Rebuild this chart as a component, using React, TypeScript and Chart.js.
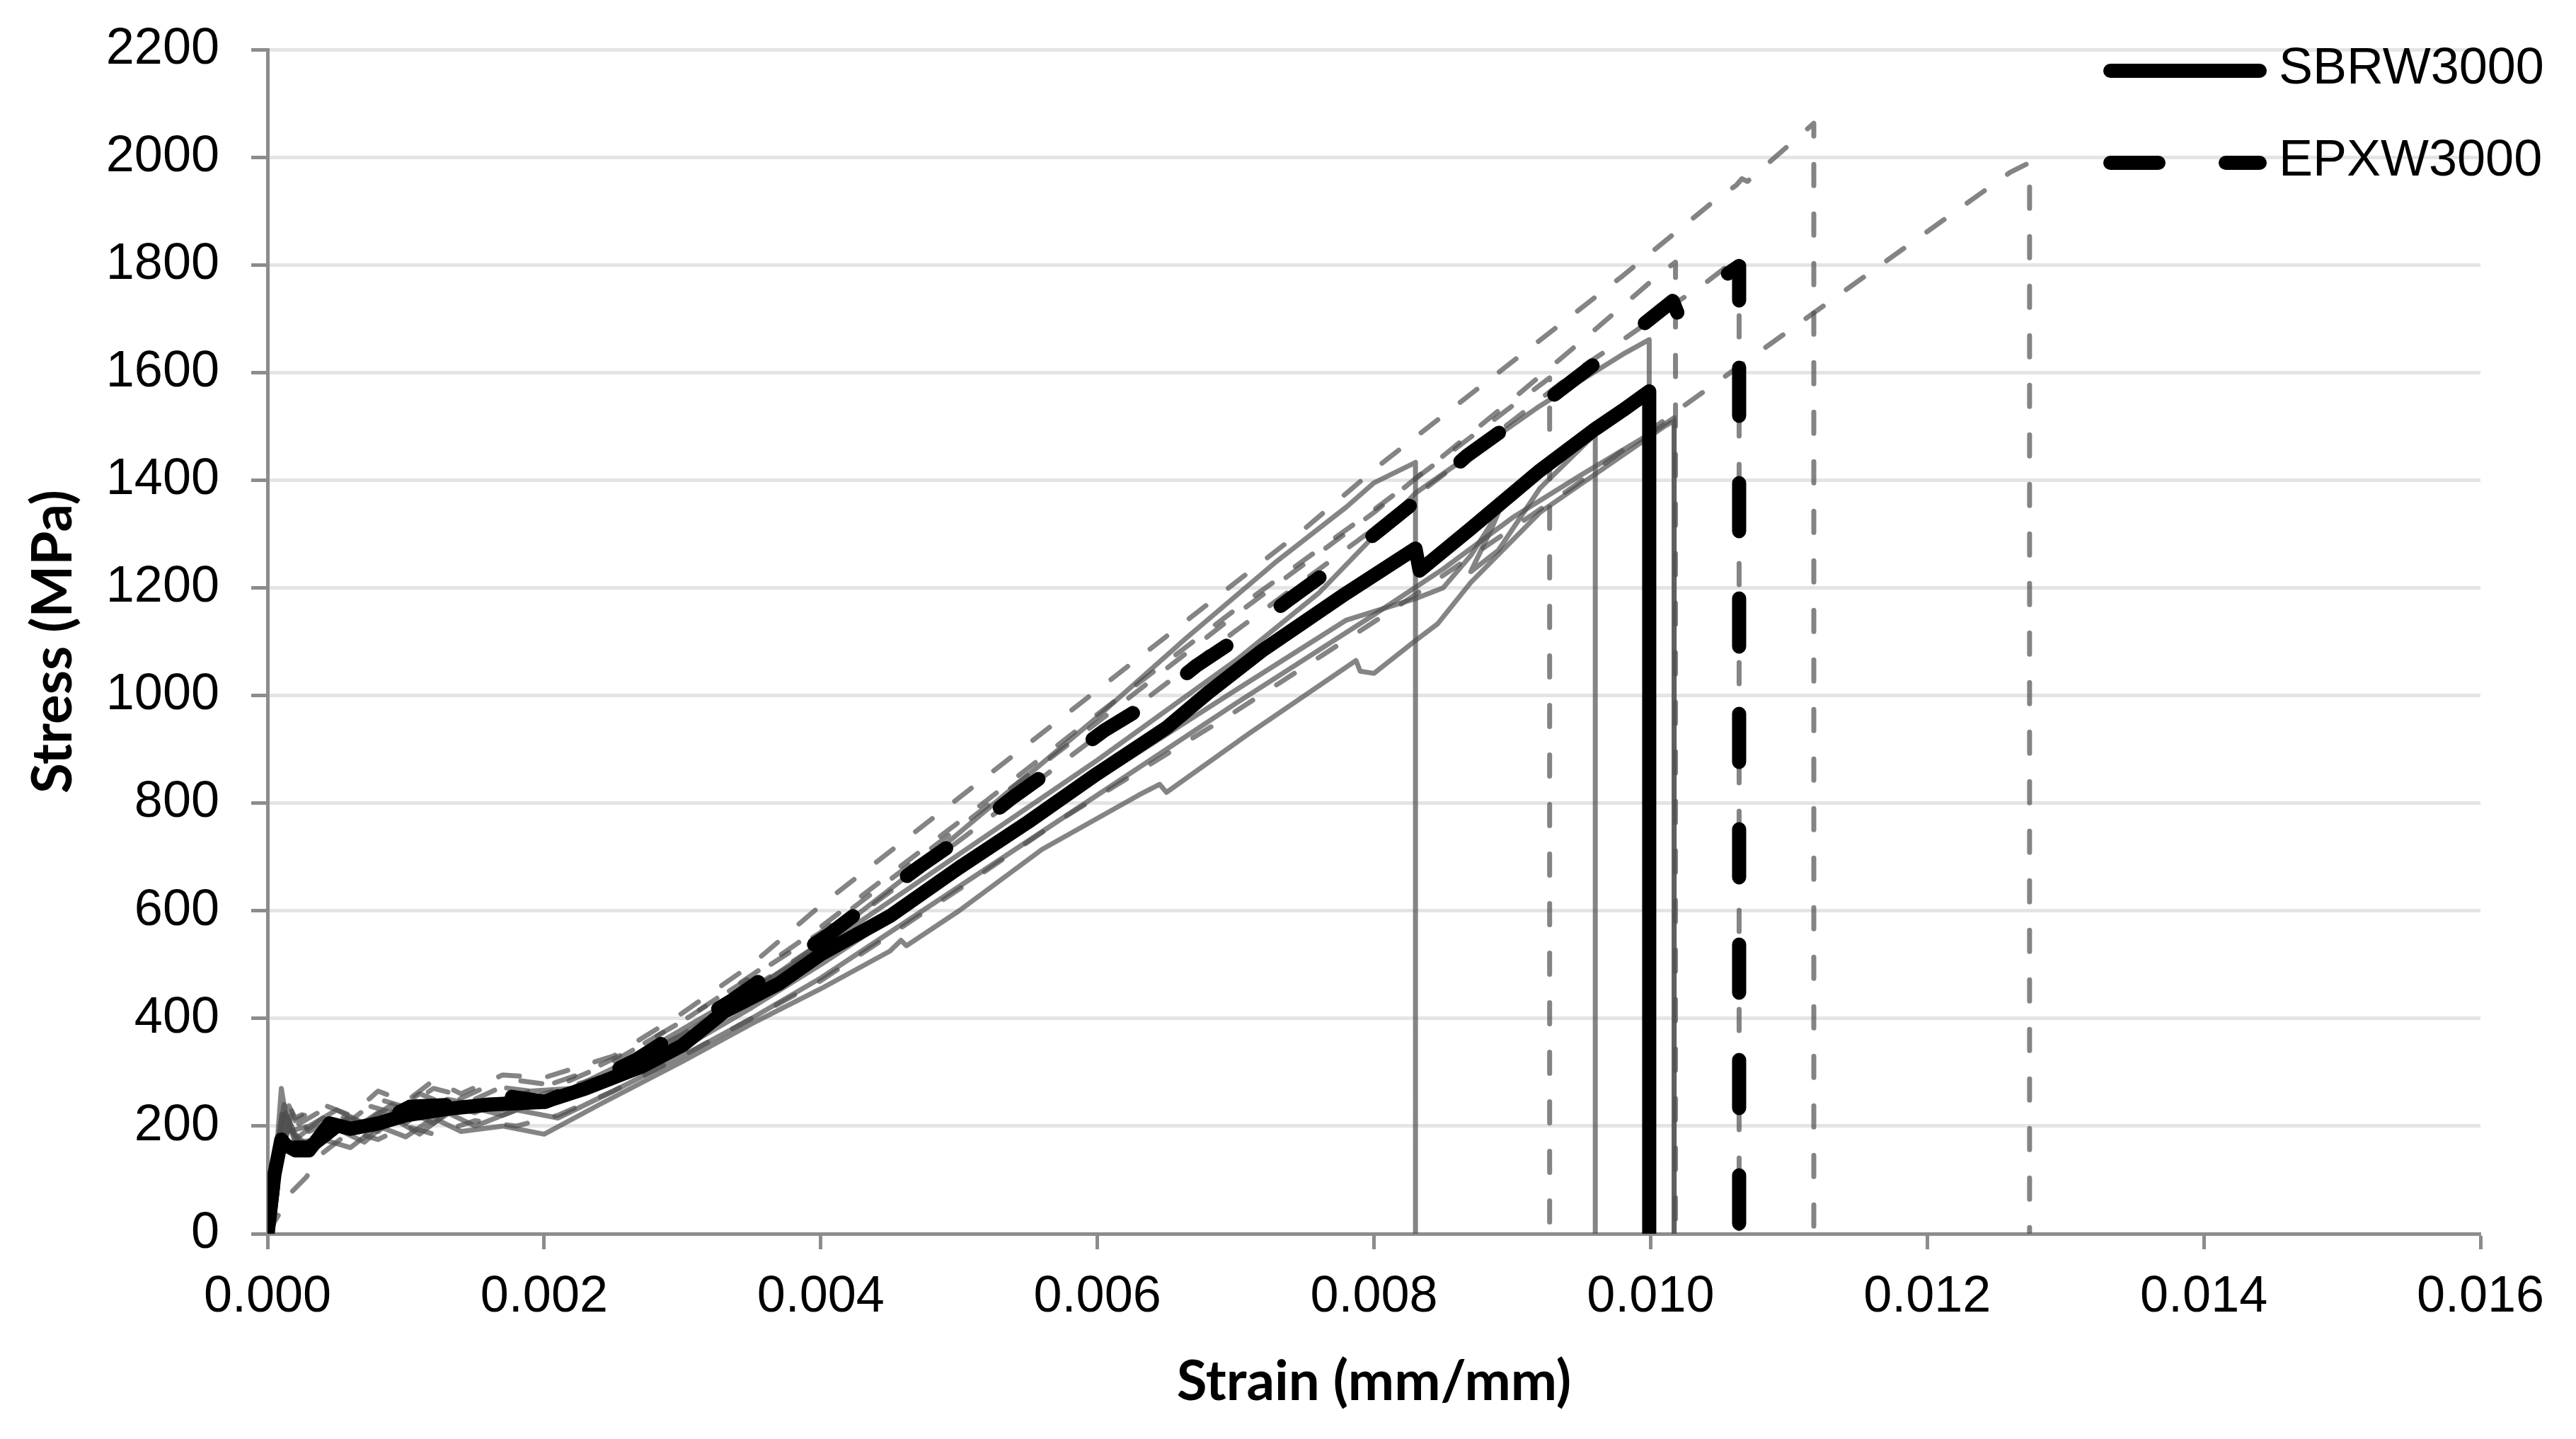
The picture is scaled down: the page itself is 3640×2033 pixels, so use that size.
import React, { useEffect, useRef } from "react";
import { Chart, registerables } from "chart.js";

Chart.register(...registerables);

// ---------- data (strain in mm/mm, stress in MPa) ----------
const sbrMeanStrain = [0, 0.00005, 0.0001, 0.00013, 0.0002, 0.0003, 0.00045, 0.0006, 0.0008, 0.001, 0.0013, 0.0016, 0.002, 0.0023, 0.0027, 0.003, 0.0033, 0.0037, 0.004, 0.0045, 0.005, 0.0055, 0.006, 0.0065, 0.0068, 0.0072, 0.0078, 0.0083, 0.00833, 0.0087, 0.0092, 0.0096, 0.0098, 0.00999, 0.00999];
const sbrMeanStress = [0, 110, 175, 165, 155, 155, 205, 195, 205, 220, 232, 240, 245, 270, 310, 350, 412, 465, 519, 590, 680, 765, 855, 940, 1005, 1085, 1190, 1273, 1232, 1310, 1418, 1495, 1530, 1565, 0];

const epxMeanStrain = [0, 0.00005, 0.0001, 0.00015, 0.0002, 0.0003, 0.0005, 0.00074, 0.00103, 0.00138, 0.00167, 0.00201, 0.00236, 0.00267, 0.00302, 0.00336, 0.0037, 0.00406, 0.00435, 0.00472, 0.00504, 0.00539, 0.0057, 0.00605, 0.00637, 0.00672, 0.00703, 0.00739, 0.00768, 0.00804, 0.00833, 0.00867, 0.00898, 0.0093, 0.00961, 0.00995, 0.01016, 0.0102, 0.01052, 0.01064, 0.01064];
const epxMeanStress = [0, 110, 180, 170, 160, 160, 200, 197, 236, 240, 258, 245, 284, 324, 381, 434, 495, 556, 613, 683, 740, 811, 868, 935, 985, 1056, 1109, 1179, 1233, 1307, 1367, 1445, 1502, 1558, 1619, 1690, 1733, 1707, 1777, 1798, 0];

// SBR specimens (solid grey)
const sbrAStrain = [0, 0.00006, 0.00012, 0.0002, 0.0004, 0.0006, 0.0008, 0.001, 0.0012, 0.0015, 0.0018, 0.0021, 0.0025, 0.003, 0.0035, 0.004, 0.0047, 0.00534, 0.006, 0.00664, 0.0073, 0.0078, 0.008, 0.0083, 0.0083];
const sbrAStress = [0, 150, 240, 175, 215, 190, 225, 205, 245, 225, 260, 250, 300, 370, 450, 540, 680, 818, 960, 1106, 1250, 1350, 1395, 1433, 0];

const sbrBStrain = [0, 0.00008, 0.00015, 0.00025, 0.0004, 0.0006, 0.0008, 0.001, 0.0012, 0.0014, 0.0017, 0.002, 0.0025, 0.003, 0.0035, 0.004, 0.005, 0.006, 0.007, 0.0078, 0.0083, 0.0085, 0.0087, 0.0089, 0.00885, 0.0087, 0.0089, 0.0092, 0.0096, 0.0096];
const sbrBStress = [0, 120, 200, 165, 185, 215, 190, 230, 205, 240, 220, 250, 285, 345, 420, 500, 670, 845, 1010, 1140, 1180, 1200, 1260, 1340, 1310, 1230, 1270, 1385, 1486, 0];

const sbrCStrain = [0, 0.00005, 0.0001, 0.00015, 0.0003, 0.0005, 0.0007, 0.0009, 0.0011, 0.0013, 0.0016, 0.0019, 0.0022, 0.0026, 0.003, 0.0035, 0.004, 0.005, 0.006, 0.007, 0.0076, 0.0083, 0.0092, 0.0098, 0.00999, 0.00999];
const sbrCStress = [0, 100, 270, 190, 200, 230, 205, 240, 215, 250, 235, 265, 270, 320, 380, 455, 530, 705, 880, 1065, 1190, 1376, 1538, 1634, 1661, 0];

const sbrDStrain = [0, 0.00008, 0.00014, 0.0002, 0.0004, 0.0006, 0.0008, 0.001, 0.0012, 0.0014, 0.0017, 0.002, 0.0024, 0.003, 0.0035, 0.004, 0.0045, 0.00458, 0.00462, 0.005, 0.0056, 0.0063, 0.00645, 0.0065, 0.0071, 0.00787, 0.0079, 0.008, 0.0083, 0.00846, 0.0087, 0.0092, 0.0101, 0.01017, 0.01017];
const sbrDStress = [0, 140, 215, 170, 175, 160, 200, 180, 215, 190, 200, 185, 240, 320, 390, 455, 525, 545, 535, 600, 714, 815, 835, 820, 930, 1065, 1045, 1041, 1102, 1133, 1210, 1340, 1500, 1510, 0];

const sbrEStrain = [0, 0.00007, 0.00013, 0.0002, 0.0003, 0.0005, 0.0007, 0.0009, 0.0011, 0.0013, 0.0015, 0.0018, 0.0021, 0.0025, 0.003, 0.0035, 0.004, 0.005, 0.006, 0.007, 0.008, 0.0085, 0.009, 0.0095, 0.01002, 0.01017, 0.01017];
const sbrEStress = [0, 130, 225, 185, 160, 195, 170, 215, 185, 225, 200, 230, 215, 265, 330, 400, 475, 645, 815, 985, 1150, 1235, 1330, 1410, 1490, 1516, 0];

// EPX specimens (dashed grey)
const epxAStrain = [0, 0.00006, 0.00012, 0.0002, 0.0004, 0.0006, 0.0008, 0.001, 0.0012, 0.0015, 0.0018, 0.0021, 0.0025, 0.003, 0.0035, 0.004, 0.005, 0.006, 0.007, 0.008, 0.0087, 0.00927, 0.00927];
const epxAStress = [0, 120, 230, 200, 230, 210, 250, 235, 270, 250, 285, 275, 320, 395, 480, 570, 765, 965, 1160, 1345, 1480, 1590, 0];

const epxBStrain = [0, 0.00008, 0.00014, 0.0002, 0.0003, 0.0005, 0.0007, 0.0009, 0.0011, 0.0013, 0.0016, 0.0019, 0.0023, 0.0027, 0.003, 0.004, 0.005, 0.006, 0.007, 0.008, 0.0084, 0.009, 0.0096, 0.01002, 0.01018, 0.01018];
const epxBStress = [0, 150, 250, 210, 225, 200, 240, 225, 260, 240, 275, 265, 300, 350, 395, 560, 755, 950, 1150, 1340, 1424, 1550, 1680, 1773, 1805, 0];

const epxCStrain = [0, 0.0001, 0.00018, 0.0003, 0.0005, 0.0007, 0.0009, 0.0011, 0.0014, 0.0017, 0.002, 0.0024, 0.003, 0.004, 0.005, 0.006, 0.007, 0.008, 0.009, 0.0095, 0.00975, 0.01022, 0.01036, 0.01064, 0.01064];
const epxCStress = [0, 140, 230, 190, 215, 195, 230, 210, 245, 230, 260, 290, 370, 540, 730, 925, 1120, 1310, 1510, 1610, 1652, 1736, 1759, 1815, 0];

const epxDStrain = [0, 0.00005, 0.00012, 0.0002, 0.0004, 0.0006, 0.0008, 0.001, 0.0012, 0.0014, 0.0017, 0.002, 0.0025, 0.003, 0.0035, 0.004, 0.00463, 0.0055, 0.0065, 0.0075, 0.00804, 0.009, 0.0098, 0.01046, 0.01062, 0.01066, 0.0107, 0.01118, 0.01118];
const epxDStress = [0, 120, 255, 215, 240, 220, 265, 245, 285, 260, 295, 290, 330, 410, 500, 610, 736, 910, 1110, 1310, 1428, 1620, 1780, 1919, 1948, 1960, 1955, 2063, 0];

const epxEStrain = [0, 0.00018, 0.00028, 0.0004, 0.0006, 0.0008, 0.001, 0.0012, 0.0015, 0.0018, 0.0021, 0.0025, 0.003, 0.0035, 0.004, 0.005, 0.00575, 0.00693, 0.00817, 0.00943, 0.01024, 0.0126, 0.01274, 0.01274];
const epxEStress = [0, 79, 105, 150, 190, 175, 200, 185, 210, 200, 220, 265, 330, 400, 470, 640, 772, 959, 1165, 1386, 1538, 1972, 1990, 0];

const legendLabels = ["SBRW3000", "EPXW3000"];
const xTickStep = 0.002;
const yTickStep = 200;

// ---------- styles ----------
const W = 3640;
const H = 2033;
const GREY = "rgba(80,80,80,0.7)";
const AXIS = "#8c8c8c";
const GRID = "#e4e4e4";
const BLACK_W = 20;
const BLACK_DASH = [68, 95];
const GREY_DASH = [30, 40];
const TICK_FONT = { family: '"Liberation Sans", Arial, sans-serif', size: 72 };
const TITLE_FONT = { family: "Lato, 'Noto Sans', sans-serif", size: 78, weight: "bold" as const };

const pts = (xs: number[], ys: number[]) => xs.map((x, i) => ({ x, y: ys[i] }));

const greySolid = (label: string, xs: number[], ys: number[]) => ({
  label,
  data: pts(xs, ys),
  showLine: true,
  borderColor: GREY,
  borderWidth: 7,
  borderJoinStyle: "round" as const,
  borderCapStyle: "round" as const,
  pointRadius: 0,
  tension: 0,
  order: 1,
});
const greyDashed = (label: string, xs: number[], ys: number[]) => ({
  ...greySolid(label, xs, ys),
  borderWidth: 7,
  borderDash: GREY_DASH,
});

const legendPlugin = {
  id: "excelLegend",
  afterDraw(chart: any) {
    const ctx = chart.ctx as CanvasRenderingContext2D;
    const items = [
      { label: legendLabels[0], dash: [] as number[] },
      { label: legendLabels[1], dash: BLACK_DASH },
    ];
    ctx.save();
    items.forEach((it, i) => {
      const y = 100 + i * 130;
      ctx.beginPath();
      ctx.strokeStyle = "#000";
      ctx.lineWidth = BLACK_W;
      ctx.lineCap = "round";
      ctx.setLineDash(it.dash);
      ctx.moveTo(2982, y);
      ctx.lineTo(3193, y);
      ctx.stroke();
      ctx.setLineDash([]);
      ctx.fillStyle = "#000";
      ctx.font = `72px ${TICK_FONT.family}`;
      ctx.textAlign = "left";
      ctx.textBaseline = "middle";
      ctx.fillText(it.label, 3220, y - 2);
    });
    ctx.restore();
  },
};

export default function App() {
  const ref = useRef<HTMLCanvasElement>(null);
  useEffect(() => {
    document.body.style.margin = "0";
    const canvas = ref.current;
    if (!canvas) return;
    const chart = new Chart(canvas, {
      type: "scatter",
      data: {
        datasets: [
          {
            label: legendLabels[0],
            data: pts(sbrMeanStrain, sbrMeanStress),
            showLine: true,
            borderColor: "#000",
            borderWidth: BLACK_W,
            borderJoinStyle: "round",
            borderCapStyle: "round",
            pointRadius: 0,
            tension: 0,
            order: 0,
          },
          {
            label: legendLabels[1],
            data: pts(epxMeanStrain, epxMeanStress),
            showLine: true,
            borderColor: "#000",
            borderWidth: BLACK_W,
            borderDash: BLACK_DASH,
            borderJoinStyle: "round",
            borderCapStyle: "round",
            pointRadius: 0,
            tension: 0,
            order: 0,
          },
          greySolid("SBR-1", sbrAStrain, sbrAStress),
          greySolid("SBR-2", sbrBStrain, sbrBStress),
          greySolid("SBR-3", sbrCStrain, sbrCStress),
          greySolid("SBR-4", sbrDStrain, sbrDStress),
          greySolid("SBR-5", sbrEStrain, sbrEStress),
          greyDashed("EPX-1", epxAStrain, epxAStress),
          greyDashed("EPX-2", epxBStrain, epxBStress),
          greyDashed("EPX-3", epxCStrain, epxCStress),
          greyDashed("EPX-4", epxDStrain, epxDStress),
          greyDashed("EPX-5", epxEStrain, epxEStress),
        ] as any,
      },
      options: {
        animation: false,
        responsive: false,
        devicePixelRatio: 1,
        events: [],
        layout: { padding: { top: 70, right: 135, bottom: 0, left: 0 } },
        plugins: {
          legend: { display: false },
          tooltip: { enabled: false },
        },
        scales: {
          x: {
            type: "linear",
            min: 0,
            max: 0.016,
            afterFit: (s: any) => {
              s.height = H - 1743;
            },
            ticks: {
              stepSize: xTickStep,
              color: "#000",
              font: TICK_FONT,
              padding: 25,
              maxRotation: 0,
              callback: (v: any) => Number(v).toFixed(3),
            },
            grid: {
              drawOnChartArea: false,
              tickColor: AXIS,
              tickLength: 22,
              tickWidth: 5,
            },
            border: { color: AXIS, width: 5 },
            title: {
              display: true,
              text: "Strain (mm/mm)",
              color: "#000",
              font: TITLE_FONT,
              padding: { top: 0, bottom: 33 },
            },
          },
          y: {
            type: "linear",
            min: 0,
            max: 2200,
            afterFit: (s: any) => {
              s.width = 378;
              s.paddingTop = 0;
              s.paddingBottom = 0;
            },
            ticks: {
              stepSize: yTickStep,
              color: "#000",
              font: TICK_FONT,
              padding: 45,
              callback: (v: any) => String(v),
            },
            grid: {
              color: (c: any) => (c.tick && c.tick.value === 0 ? "rgba(0,0,0,0)" : GRID),
              lineWidth: 5,
              tickColor: AXIS,
              tickLength: 23,
              tickWidth: 5,
            },
            border: { color: AXIS, width: 5 },
            title: {
              display: true,
              text: "Stress (MPa)",
              color: "#000",
              font: TITLE_FONT,
              padding: { top: 29, bottom: 0 },
            },
          },
        },
      } as any,
      plugins: [legendPlugin],
    });
    const fonts = (document as any).fonts;
    if (fonts && fonts.load) {
      Promise.all([
        fonts.load('72px "Liberation Sans"'),
        fonts.load("bold 78px Lato"),
      ])
        .then(() => chart.update())
        .catch(() => {});
    }
    return () => chart.destroy();
  }, []);
  return (
    <div style={{ width: W, height: H, background: "#fff" }}>
      <canvas ref={ref} width={W} height={H} style={{ display: "block", width: W, height: H }} />
    </div>
  );
}
